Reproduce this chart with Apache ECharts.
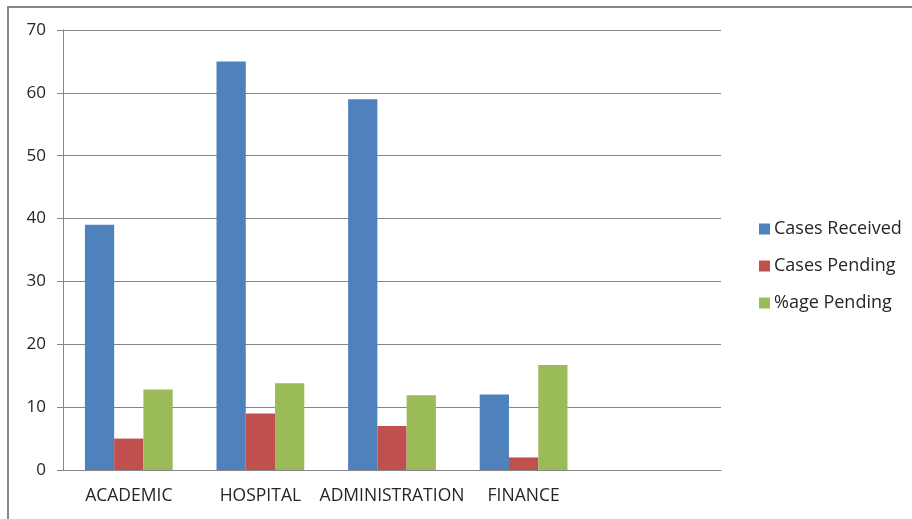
<!DOCTYPE html>
<html>
<head>
<meta charset="utf-8">
<style>
  html, body { margin: 0; padding: 0; background: #fff; }
  #chart { width: 912px; height: 519px; }
</style>
<script src="https://cdn.jsdelivr.net/npm/echarts@6/dist/echarts.min.js"></script>
</head>
<body>
<div id="chart"></div>
<script>
// 数据
var categories = ['ACADEMIC', 'HOSPITAL', 'ADMINISTRATION', 'FINANCE', ''];
var casesReceived = [39, 65, 59, 12, '-'];
var casesPending = [5, 9, 7, 2, '-'];
var agePending = [12.8, 13.8, 11.9, 16.7, '-'];

var chart = echarts.init(document.getElementById('chart'));

var font = 'Open Sans';
var gray = '#868686';

var option = {
    animation: false,
    textStyle: { fontFamily: font },
    graphic: [{
        type: 'rect',
        shape: { x: 8, y: 7, width: 920, height: 530 },
        style: { fill: 'none', stroke: gray, lineWidth: 2 }
    }],
    grid: { left: 63, top: 30, right: 191, bottom: 49 },
    legend: {
        orient: 'vertical',
        left: 754,
        top: 215,
        itemWidth: 11,
        itemHeight: 11,
        itemGap: 19,
        icon: 'rect',
        textStyle: { fontFamily: font, fontSize: 18, color: '#262626', padding: [0, 0, 0, -1] },
        data: ['Cases Received', 'Cases Pending', '%age Pending']
    },
    xAxis: {
        type: 'category',
        data: categories,
        axisLine: { lineStyle: { color: gray } },
        axisTick: { length: 7, lineStyle: { color: gray } },
        axisLabel: { fontFamily: font, fontSize: 17.5, color: '#262626', margin: 17, interval: 0 }
    },
    yAxis: {
        type: 'value',
        min: 0,
        max: 70,
        interval: 10,
        axisLine: { show: true, lineStyle: { color: gray } },
        axisTick: { show: true, length: 6, lineStyle: { color: gray } },
        axisLabel: { fontFamily: font, fontSize: 17, color: '#262626', margin: 17 },
        splitLine: { lineStyle: { color: gray } }
    },
    series: [
        { name: 'Cases Received', type: 'bar', data: casesReceived, barGap: '0%', barCategoryGap: '33.3%',
          itemStyle: { color: '#4F81BD' } },
        { name: 'Cases Pending', type: 'bar', data: casesPending,
          itemStyle: { color: '#C0504D' } },
        { name: '%age Pending', type: 'bar', data: agePending,
          itemStyle: { color: '#9BBB59' } }
    ]
};

chart.setOption(option);
</script>
</body>
</html>
